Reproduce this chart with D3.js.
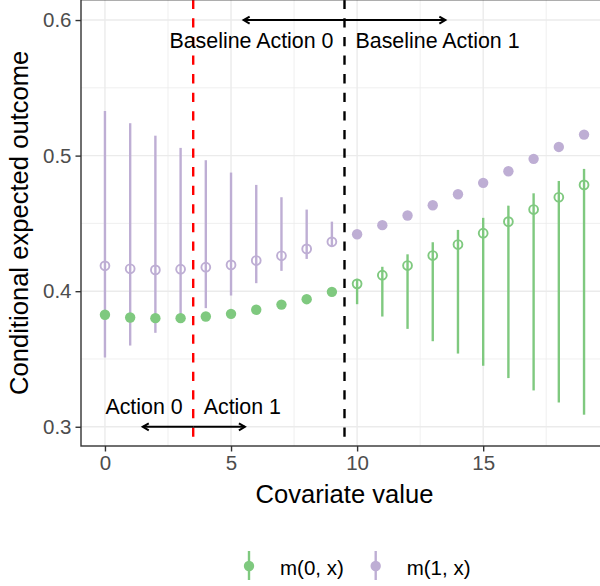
<!DOCTYPE html>
<html>
<head>
<meta charset="utf-8">
<script src="https://cdn.jsdelivr.net/npm/d3@7"></script>
<style>
  body { margin: 0; background: #fff; }
  svg { display: block; font-family: "Liberation Sans", Arial, Helvetica, sans-serif; }
</style>
</head>
<body>
<div id="chart"></div>
<script>
// covariate values
var covariate = [0, 1, 2, 3, 4, 5, 6, 7, 8, 9, 10, 11, 12, 13, 14, 15, 16, 17, 18, 19];

// conditional expected outcome under action 0 and action 1
var m0 = [0.3826, 0.3806, 0.3801, 0.3801, 0.3813, 0.3833, 0.3863, 0.3901, 0.3941, 0.3995,
          0.4054, 0.4118, 0.4189, 0.4263, 0.4344, 0.4428, 0.4513, 0.4602, 0.4693, 0.4784];
var m1 = [0.4187, 0.4165, 0.4157, 0.4162, 0.4177, 0.4194, 0.4226, 0.4261, 0.4312, 0.4364,
          0.4420, 0.4487, 0.4558, 0.4634, 0.4715, 0.4799, 0.4885, 0.4976, 0.5064, 0.5155];

// intervals (only for the non-baseline action, null otherwise)
var m0Lower = [null, null, null, null, null, null, null, null, null, null,
               0.3904, 0.3813, 0.3722, 0.3631, 0.3540, 0.3450, 0.3359, 0.3268, 0.3179, 0.3089];
var m0Upper = [null, null, null, null, null, null, null, null, null, null,
               0.4091, 0.4180, 0.4272, 0.4361, 0.4452, 0.4541, 0.4631, 0.4722, 0.4813, 0.4902];
var m1Lower = [0.3511, 0.3599, 0.3693, 0.3781, 0.3875, 0.3968, 0.4059, 0.4150, 0.4238, 0.4327,
               null, null, null, null, null, null, null, null, null, null];
var m1Upper = [0.5329, 0.5239, 0.5147, 0.5057, 0.4966, 0.4875, 0.4784, 0.4693, 0.4602, 0.4513,
               null, null, null, null, null, null, null, null, null, null];

// thresholds
var actionCut = 3.5;
var baselineCut = 9.5;

// ticks
var xTicks = [0, 5, 10, 15];
var xMinor = [2.5, 7.5, 12.5, 17.5];
var yTicks = [0.3, 0.4, 0.5, 0.6];
var yMinor = [0.35, 0.45, 0.55];

// annotations
var topArrows = [[9.5, 5.5], [9.5, 13.5]];
var bottomArrows = [[3.5, 1.5], [3.5, 5.55]];
var topLabels = ["Baseline Action 0", "Baseline Action 1"];
var bottomLabels = ["Action 0", "Action 1"];
var seriesNames = ["m(0, x)", "m(1, x)"];

var colors = ["#7FC97F", "#BEAED4"];

var W = 600, H = 586;
var panel = {left: 81, top: -0.3, right: 608, bottom: 446};

var x = d3.scaleLinear().domain([-0.95, 19.95]).range([panel.left, panel.right]);
var y = d3.scaleLinear().domain([0.285, 0.615]).range([447.1, -0.3]);

var svg = d3.select("#chart").append("svg")
  .attr("width", W).attr("height", H);

// gridlines
var grid = svg.append("g");
grid.selectAll(".ymin").data(yMinor).enter().append("line")
  .attr("x1", panel.left).attr("x2", panel.right)
  .attr("y1", function(d) { return y(d); }).attr("y2", function(d) { return y(d); })
  .attr("stroke", "#EBEBEB").attr("stroke-width", 0.8);
grid.selectAll(".xmin").data(xMinor).enter().append("line")
  .attr("y1", panel.top).attr("y2", panel.bottom)
  .attr("x1", function(d) { return x(d); }).attr("x2", function(d) { return x(d); })
  .attr("stroke", "#EBEBEB").attr("stroke-width", 0.8);
grid.selectAll(".ymaj").data(yTicks).enter().append("line")
  .attr("x1", panel.left).attr("x2", panel.right)
  .attr("y1", function(d) { return y(d); }).attr("y2", function(d) { return y(d); })
  .attr("stroke", "#EBEBEB").attr("stroke-width", 1.4);
grid.selectAll(".xmaj").data(xTicks).enter().append("line")
  .attr("y1", panel.top).attr("y2", panel.bottom)
  .attr("x1", function(d) { return x(d); }).attr("x2", function(d) { return x(d); })
  .attr("stroke", "#EBEBEB").attr("stroke-width", 1.4);

// vertical cut lines
svg.append("line")
  .attr("x1", x(actionCut)).attr("x2", x(actionCut))
  .attr("y1", panel.top).attr("y2", panel.bottom)
  .attr("stroke", "#FF0000").attr("stroke-width", 2.4)
  .attr("stroke-dasharray", "9.3,9.3");
svg.append("line")
  .attr("x1", x(baselineCut)).attr("x2", x(baselineCut))
  .attr("y1", panel.top).attr("y2", panel.bottom)
  .attr("stroke", "#000").attr("stroke-width", 2.4)
  .attr("stroke-dasharray", "9.3,9.3");

// arrows
function drawArrow(x0, x1, yv) {
  var px0 = x(x0), px1 = x(x1), py = y(yv);
  var dir = px1 > px0 ? 1 : -1;
  var g = svg.append("g").attr("stroke", "#000").attr("stroke-width", 2).attr("fill", "none");
  g.append("line").attr("x1", px0).attr("x2", px1).attr("y1", py).attr("y2", py);
  g.append("path")
    .attr("d", "M" + (px1 - dir * 6) + "," + (py - 3.5) + "L" + px1 + "," + py + "L" + (px1 - dir * 6) + "," + (py + 3.5))
    .attr("stroke-linejoin", "miter");
}
topArrows.forEach(function(a) { drawArrow(a[0], a[1], 0.6); });
bottomArrows.forEach(function(a) { drawArrow(a[0], a[1], 0.3); });

// annotation labels
svg.append("text").attr("x", x(baselineCut) - 11).attr("y", 48)
  .attr("text-anchor", "end").attr("font-size", 21.4).text(topLabels[0]);
svg.append("text").attr("x", x(baselineCut) + 11).attr("y", 48)
  .attr("text-anchor", "start").attr("font-size", 21.4).text(topLabels[1]);
svg.append("text").attr("x", x(actionCut) - 10.5).attr("y", 414)
  .attr("text-anchor", "end").attr("font-size", 21.4).text(bottomLabels[0]);
svg.append("text").attr("x", x(actionCut) + 10.5).attr("y", 414)
  .attr("text-anchor", "start").attr("font-size", 21.4).text(bottomLabels[1]);

// data table
var data = covariate.map(function(c, i) {
  return {x: c, m: [m0[i], m1[i]], lo: [m0Lower[i], m1Lower[i]], hi: [m0Upper[i], m1Upper[i]]};
});

// interval bars
[0, 1].forEach(function(k) {
  svg.append("g").selectAll("line")
    .data(data.filter(function(d) { return d.lo[k] !== null; }))
    .enter().append("line")
    .attr("x1", function(d) { return x(d.x); }).attr("x2", function(d) { return x(d.x); })
    .attr("y1", function(d) { return y(d.lo[k]); }).attr("y2", function(d) { return y(d.hi[k]); })
    .attr("stroke", colors[k]).attr("stroke-width", 2.4);
  // open points (non-baseline action)
  svg.append("g").selectAll("circle")
    .data(data.filter(function(d) { return d.lo[k] !== null; }))
    .enter().append("circle")
    .attr("cx", function(d) { return x(d.x); })
    .attr("cy", function(d) { return y(d.m[k]); })
    .attr("r", 4.4)
    .attr("fill", "none").attr("stroke", colors[k]).attr("stroke-width", 1.9);
});

// filled points (baseline action)
[0, 1].forEach(function(k) {
  svg.append("g").selectAll("circle")
    .data(data.filter(function(d) { return d.lo[k] === null; }))
    .enter().append("circle")
    .attr("cx", function(d) { return x(d.x); })
    .attr("cy", function(d) { return y(d.m[k]); })
    .attr("r", 5.2)
    .attr("fill", colors[k]);
});

// panel border
svg.append("rect")
  .attr("x", panel.left).attr("y", panel.top)
  .attr("width", panel.right - panel.left).attr("height", panel.bottom - panel.top)
  .attr("fill", "none").attr("stroke", "#333333").attr("stroke-width", 1.4);

// axes
var yAxis = svg.append("g")
  .attr("transform", "translate(" + panel.left + ",0)")
  .call(d3.axisLeft(y).tickValues(yTicks).tickFormat(d3.format(".1f")).tickSize(5.5).tickPadding(4));
var xAxis = svg.append("g")
  .attr("transform", "translate(0," + panel.bottom + ")")
  .call(d3.axisBottom(x).tickValues(xTicks).tickSize(5.5).tickPadding(4));
[xAxis, yAxis].forEach(function(a) {
  a.select(".domain").remove();
  a.selectAll(".tick line").attr("stroke", "#333333").attr("stroke-width", 1.4);
  a.selectAll(".tick text").attr("fill", "#4D4D4D").attr("font-size", 20.5)
    .attr("font-family", "Liberation Sans, Arial, sans-serif");
});

// axis titles
svg.append("text")
  .attr("x", (panel.left + panel.right) / 2).attr("y", 503)
  .attr("text-anchor", "middle").attr("font-size", 25.6).text("Covariate value");
svg.append("text")
  .attr("transform", "translate(28," + ((panel.top + panel.bottom) / 2) + ") rotate(-90)")
  .attr("text-anchor", "middle").attr("font-size", 25.6).text("Conditional expected outcome");

// legend
var legendX = [249, 375.7];
var legend = svg.append("g");
[0, 1].forEach(function(k) {
  var g = legend.append("g").attr("transform", "translate(" + legendX[k] + ",566)");
  g.append("line").attr("y1", -15).attr("y2", 14).attr("stroke", colors[k]).attr("stroke-width", 2.4);
  g.append("circle").attr("r", 5.2).attr("fill", colors[k]);
  g.append("text").attr("x", 31).attr("y", 9).attr("font-size", 20.5).text(seriesNames[k]);
});
</script>
</body>
</html>
